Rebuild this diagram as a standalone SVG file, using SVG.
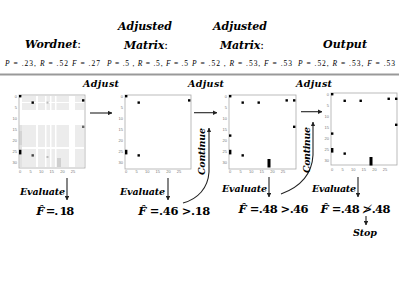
<svg xmlns="http://www.w3.org/2000/svg" width="399" height="308" viewBox="0 0 399 308">
<style>
.h{font-family:"DejaVu Serif",serif;font-weight:bold;font-style:italic;font-size:11px;fill:#000}
.l{font-family:"DejaVu Serif",serif;font-weight:bold;font-style:italic;font-size:9.5px;fill:#000}
.f{font-family:"DejaVu Serif",serif;font-weight:bold;font-size:11.5px;fill:#000}
.m{font-family:"Liberation Serif",serif;font-size:7.5px;fill:#000}
.i{font-style:italic}
.n{font-style:normal;font-weight:normal}
.t{font-family:"Liberation Sans",sans-serif;font-size:4px;fill:#777}
.tl{text-anchor:end}
.tb{text-anchor:middle}
.fr{fill:none;stroke:#aaa;stroke-width:0.8}
.pt{fill:#000}
.hm{fill:#ececec}
.ar{fill:none;stroke:#222;stroke-width:1.1;marker-end:url(#ah)}
</style>
<defs>
<marker id="ah" viewBox="0 0 6 6" refX="5.5" refY="3" markerWidth="4.5" markerHeight="4.5" markerUnits="userSpaceOnUse" orient="auto"><path d="M0,0 L6,3 L0,6 z" fill="#222"/></marker>
<g id="ticks">
<text class="t tl" x="-2" y="2.5">0</text>
<text class="t tl" x="-2" y="13.5">5</text>
<text class="t tl" x="-2" y="24.5">10</text>
<text class="t tl" x="-2" y="35.5">15</text>
<text class="t tl" x="-2" y="46.5">20</text>
<text class="t tl" x="-2" y="57.5">25</text>
<text class="t tl" x="-2" y="68.5">30</text>
<text class="t tb" x="1" y="78">0</text>
<text class="t tb" x="11.6" y="78">5</text>
<text class="t tb" x="22.2" y="78">10</text>
<text class="t tb" x="32.8" y="78">15</text>
<text class="t tb" x="43.4" y="78">20</text>
<text class="t tb" x="54" y="78">25</text>
</g>
</defs>
<rect width="399" height="308" fill="#fff"/>

<g id="headers">
<text class="h" x="25" y="48" textLength="56">Wordnet<tspan class="n">:</tspan></text>
<text class="h" x="118" y="30" textLength="54">Adjusted</text>
<text class="h" x="124" y="49" textLength="44">Matrix<tspan class="n">:</tspan></text>
<text class="h" x="213" y="30" textLength="54">Adjusted</text>
<text class="h" x="220" y="49" textLength="44">Matrix<tspan class="n">:</tspan></text>
<text class="h" x="323" y="48" textLength="44">Output</text>
</g>

<g id="metrics">
<text class="m" x="5" y="66" textLength="95"><tspan class="i">P</tspan> =  .23, <tspan class="i">R</tspan> = .52 <tspan class="i">F</tspan> = .27</text>
<text class="m" x="107" y="66" textLength="81"><tspan class="i">P</tspan> = .5 , <tspan class="i">R</tspan> = .5, <tspan class="i">F</tspan> = .5</text>
<text class="m" x="192" y="66" textLength="100"><tspan class="i">P</tspan> = .52 , <tspan class="i">R</tspan> = .53, <tspan class="i">F</tspan> = .53</text>
<text class="m" x="298" y="66" textLength="97"><tspan class="i">P</tspan> =  .52, <tspan class="i">R</tspan> = .53, <tspan class="i">F</tspan> = .53</text>
</g>

<line x1="0" y1="74.5" x2="399" y2="74.5" stroke="#999" stroke-width="1.8"/>

<g id="adjust-labels">
<text class="l" x="83" y="87" textLength="36">Adjust</text>
<text class="l" x="188" y="87" textLength="36">Adjust</text>
<text class="l" x="296" y="87" textLength="36">Adjust</text>
</g>

<g id="plot1" transform="translate(19,95)">
<rect class="hm" x="3" y="1" width="14" height="6"/>
<rect class="hm" x="19" y="1" width="7" height="6"/>
<rect class="hm" x="27.5" y="1" width="3.5" height="6"/>
<rect class="hm" x="32.5" y="1" width="3.5" height="6"/>
<rect class="hm" x="37.5" y="1" width="12.5" height="6"/>
<rect class="hm" x="56" y="1" width="9" height="6"/>
<rect class="hm" x="3" y="8" width="14" height="7"/>
<rect class="hm" x="19" y="8" width="7" height="7"/>
<rect class="hm" x="27.5" y="8" width="3.5" height="7"/>
<rect class="hm" x="32.5" y="8" width="3.5" height="7"/>
<rect class="hm" x="37.5" y="8" width="12.5" height="7"/>
<rect class="hm" x="56" y="8" width="9" height="7"/>
<rect class="hm" x="3" y="30" width="14" height="22"/>
<rect class="hm" x="19" y="30" width="7" height="22"/>
<rect class="hm" x="27.5" y="30" width="3.5" height="22"/>
<rect class="hm" x="32.5" y="30" width="3.5" height="22"/>
<rect class="hm" x="37.5" y="30" width="12.5" height="22"/>
<rect class="hm" x="56" y="30" width="9" height="22"/>
<rect class="hm" x="3" y="54" width="14" height="18"/>
<rect class="hm" x="19" y="54" width="7" height="18"/>
<rect class="hm" x="27.5" y="54" width="3.5" height="18"/>
<rect class="hm" x="32.5" y="54" width="3.5" height="18"/>
<rect class="hm" x="37.5" y="54" width="12.5" height="18"/>
<rect class="hm" x="56" y="54" width="9" height="18"/>
<rect x="0.5" y="30" width="2.5" height="42" fill="#e2e2e2"/>
<rect x="0.5" y="36" width="2.5" height="14" fill="#d4d4d4"/>
<rect x="38" y="63" width="4" height="9" fill="#cfcfcf"/>
<rect x="27.5" y="6.6" width="2" height="2" fill="#bbb"/>
<rect x="27.5" y="61" width="2" height="2" fill="#bbb"/>
<rect class="fr" x="0" y="0" width="66" height="73"/>
<rect class="pt" x="0" y="0" width="2.4" height="2.4"/>
<rect class="pt" x="12.5" y="6.4" width="2.4" height="2.4"/>
<rect class="pt" x="63" y="4.2" width="2.4" height="2.4"/>
<rect x="63" y="30.6" width="2.4" height="2.4" fill="#666"/>
<rect class="pt" x="0" y="54.8" width="2.4" height="4.6"/>
<rect x="12.5" y="59.2" width="2.4" height="2.4" fill="#444"/>
<use href="#ticks"/>
</g>

<g id="plot2" transform="translate(125,95)">
<rect class="fr" x="0" y="0" width="66" height="74"/>
<rect class="pt" x="0" y="0" width="2.4" height="2.4"/>
<rect class="pt" x="12.5" y="6.4" width="2.4" height="2.4"/>
<rect class="pt" x="63" y="4.2" width="2.4" height="2.4"/>
<rect class="pt" x="0" y="54.8" width="2.4" height="4.6"/>
<rect class="pt" x="12.5" y="59.2" width="2.4" height="2.4"/>
<use href="#ticks"/>
</g>

<g id="plot3" transform="translate(229,95)">
<rect class="fr" x="0" y="0" width="67" height="74"/>
<rect class="pt" x="0" y="0" width="2.4" height="2.4"/>
<rect class="pt" x="12.5" y="6.4" width="2.4" height="2.4"/>
<rect class="pt" x="28.5" y="6.4" width="2.4" height="2.4"/>
<rect class="pt" x="56.5" y="4.2" width="2.4" height="2.4"/>
<rect class="pt" x="64" y="4.2" width="2.4" height="2.4"/>
<rect class="pt" x="64" y="30.6" width="2.4" height="2.4"/>
<rect class="pt" x="0" y="39.4" width="2.4" height="2.4"/>
<rect class="pt" x="0" y="54.8" width="2.4" height="4.6"/>
<rect class="pt" x="12.5" y="59.2" width="2.4" height="2.4"/>
<rect class="pt" x="38.5" y="64" width="3" height="8.5"/>
<use href="#ticks"/>
</g>

<g id="plot4" transform="translate(331,93)">
<rect class="fr" x="0" y="0" width="66" height="72"/>
<rect class="pt" x="0" y="0" width="2.4" height="2.4"/>
<rect class="pt" x="12.5" y="6.6" width="2.4" height="2.4"/>
<rect class="pt" x="28.5" y="6.6" width="2.4" height="2.4"/>
<rect class="pt" x="56.5" y="4.6" width="2.4" height="2.4"/>
<rect class="pt" x="64" y="4.6" width="2.4" height="2.4"/>
<rect class="pt" x="64" y="30.6" width="2.4" height="2.4"/>
<rect class="pt" x="0" y="39.4" width="2.4" height="2.4"/>
<rect class="pt" x="0" y="55" width="2.4" height="4.6"/>
<rect class="pt" x="12.5" y="59.4" width="2.4" height="2.4"/>
<rect class="pt" x="38.5" y="64" width="3" height="8.5"/>
<use href="#ticks"/>
</g>

<g id="connectors">
<line class="ar" x1="90" y1="113" x2="112" y2="113"/>
<line class="ar" x1="194" y1="112.7" x2="217" y2="112.7"/>
<line class="ar" x1="301" y1="111.7" x2="322" y2="111.7"/>
<line class="ar" x1="67" y1="178" x2="67" y2="200"/>
<line class="ar" x1="168" y1="178" x2="168" y2="200"/>
<line class="ar" x1="269" y1="177" x2="269" y2="197"/>
<line class="ar" x1="358" y1="177" x2="358" y2="197"/>
<line class="ar" x1="366" y1="216" x2="366" y2="225"/>
<path class="ar" d="M183,203 C198,199 208,188 209,172 L209,128"/>
<path class="ar" d="M281,194 C300,187 312,175 313,155 L313,122"/>
</g>

<g id="evaluate-labels">
<text class="l" x="20" y="195" textLength="45">Evaluate</text>
<text class="l" x="120" y="195" textLength="45">Evaluate</text>
<text class="l" x="222" y="192" textLength="45">Evaluate</text>
<text class="l" x="312" y="192" textLength="44">Evaluate</text>
</g>

<g id="continue-labels">
<text class="l" transform="translate(205,175) rotate(-90)" x="0" y="0" textLength="47">Continue</text>
<text class="l" transform="translate(310,173) rotate(-90)" x="0" y="0" textLength="46">Continue</text>
</g>

<g id="scores">
<text class="f" x="35" y="215" textLength="38"><tspan class="i">F̂</tspan> =. 18</text>
<text class="f" x="138" y="215" textLength="72"><tspan class="i">F̂</tspan> =.46 &gt;.18</text>
<text class="f" x="238" y="213" textLength="70"><tspan class="i">F̂</tspan> =.48 &gt;.46</text>
<text class="f" x="320" y="213" textLength="70"><tspan class="i">F̂</tspan> =.48 ≯.48</text>
<text class="l" x="353" y="236" textLength="24">Stop</text>
</g>
</svg>
